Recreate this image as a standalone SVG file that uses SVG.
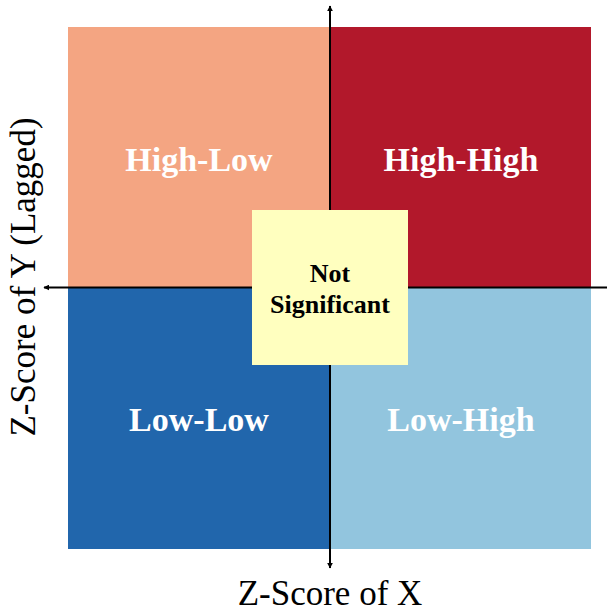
<svg xmlns="http://www.w3.org/2000/svg" width="607" height="608" viewBox="0 0 607 608">
<defs>
<marker id="ah" viewBox="0 0 10 10" refX="9" refY="5" markerWidth="6" markerHeight="6" markerUnits="userSpaceOnUse" orient="auto">
<path d="M0,0 L10,5 L0,10 z" fill="#000"/>
</marker>
<style>
.q{font-family:"Liberation Serif","Times New Roman",serif;font-weight:bold;font-size:34px;fill:#fff;text-anchor:middle}
.c{font-family:"Liberation Serif","Times New Roman",serif;font-weight:bold;font-size:26px;fill:#000;text-anchor:middle}
.ax{font-family:"Liberation Serif","Times New Roman",serif;font-size:35px;fill:#000;text-anchor:middle}
</style>
</defs>
<rect width="607" height="608" fill="#fff"/>
<g id="high-low"><rect x="68" y="27" width="262" height="261" fill="#F4A582"/><text class="q" x="199" y="171">High-Low</text></g>
<g id="high-high"><rect x="330" y="27" width="261" height="261" fill="#B2182B"/><text class="q" x="461" y="171">High-High</text></g>
<g id="low-low"><rect x="68" y="288" width="262" height="261" fill="#2166AC"/><text class="q" x="199" y="431">Low-Low</text></g>
<g id="low-high"><rect x="330" y="288" width="261" height="261" fill="#92C5DE"/><text class="q" x="461" y="431">Low-High</text></g>
<g id="connectors">
<line x1="330" y1="566" x2="330" y2="6" stroke="#000" stroke-width="2" marker-end="url(#ah)"/>
<line x1="330" y1="287" x2="330" y2="568" stroke="#000" stroke-width="2" marker-end="url(#ah)"/>
<line x1="607" y1="287.5" x2="44" y2="287.5" stroke="#000" stroke-width="2" marker-end="url(#ah)"/>
</g>
<g id="not-significant"><rect x="252" y="210" width="156" height="155" fill="#FFFFBF"/><text class="c" x="330" y="282">Not</text><text class="c" x="330" y="313">Significant</text></g>
<text class="ax" x="330" y="605">Z-Score of X</text>
<text class="ax" transform="translate(35,277) rotate(-90)">Z-Score of Y (Lagged)</text>
</svg>
